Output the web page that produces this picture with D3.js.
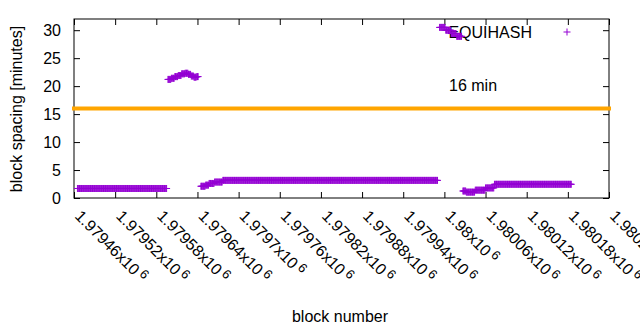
<!DOCTYPE html>
<html lang="en">
<head>
    <meta charset="UTF-8">
    <title>Block spacing</title>
    <script src="https://cdn.jsdelivr.net/npm/d3@7"></script>
    <style>
        body { margin: 0; background: #fff; }
        svg { display: block; }
        text { font-family: "Liberation Sans", Arial, sans-serif; font-size: 16px; fill: #000; }
        .axis path { display: none; }
        .axis line { stroke: #000; stroke-width: 1; }
    </style>
</head>
<body>
<svg id="chart" width="640" height="330"></svg>

<script>
    // runs of blocks that share (about) the same block spacing
    let run_start = [1979465, 1979597, 1979602, 1979607, 1979612, 1979617, 1979622, 1979627, 1979631, 1979635, 1979639,
        1979645, 1979652, 1979657, 1979665, 1979677,
        1979993, 1980002, 1980010, 1980018,
        1980027, 1980032, 1980045, 1980060, 1980073]
    let run_end = [1979595, 1979601, 1979606, 1979611, 1979616, 1979621, 1979626, 1979630, 1979634, 1979638, 1979641,
        1979651, 1979656, 1979664, 1979676, 1979990,
        1980001, 1980009, 1980017, 1980025,
        1980031, 1980044, 1980059, 1980072, 1980185]
    let run_minutes = [1.7, 21.2, 21.4, 21.7, 21.9, 22.2, 22.3, 22.1, 21.8, 21.6, 21.7,
        2.1, 2.3, 2.6, 2.85, 3.15,
        30.5, 30.0, 29.4, 28.9,
        1.25, 1.05, 1.4, 1.8, 2.45]

    let target_minutes = 16
    let x_ticks = [1979460, 1979520, 1979580, 1979640, 1979700, 1979760, 1979820,
        1979880, 1979940, 1980000, 1980060, 1980120, 1980180, 1980240]
    let x_tick_labels = ["1.97946", "1.97952", "1.97958", "1.97964", "1.9797", "1.97976", "1.97982",
        "1.97988", "1.97994", "1.98", "1.98006", "1.98012", "1.98018", "1.98024"]
    let y_ticks = [0, 5, 10, 15, 20, 25, 30]

    let purple = "#9400d3"
    let orange = "#ffa500"

    let plot_left = 74, plot_right = 609, plot_top = 19, plot_bottom = 198

    let x = d3.scaleLinear().domain([1979460, 1980240]).range([plot_left, plot_right])
    let y = d3.scaleLinear().domain([0, 32]).range([plot_bottom, plot_top])

    let svg = d3.select("#chart")

    // one point per block
    let points = []
    for (let i = 0; i < run_start.length; i++) {
        for (let b = run_start[i]; b <= run_end[i]; b++) {
            points.push({block: b, minutes: run_minutes[i]})
        }
    }

    // axes (ticks inward on all four sides)
    svg.append("g").attr("class", "axis")
        .attr("transform", "translate(0," + plot_bottom + ")")
        .call(d3.axisBottom(x).tickValues(x_ticks).tickSize(-6).tickFormat(""))
    svg.append("g").attr("class", "axis")
        .attr("transform", "translate(0," + plot_top + ")")
        .call(d3.axisTop(x).tickValues(x_ticks).tickSize(-6).tickFormat(""))
    let yAxis = svg.append("g").attr("class", "axis")
        .attr("transform", "translate(" + plot_left + ",0)")
        .call(d3.axisLeft(y).tickValues(y_ticks).tickSize(-6).tickPadding(13))
    yAxis.selectAll("text").style("font-size", "16px").style("font-family", "Liberation Sans, Arial, sans-serif")
    svg.append("g").attr("class", "axis")
        .attr("transform", "translate(" + plot_right + ",0)")
        .call(d3.axisRight(y).tickValues(y_ticks).tickSize(-6).tickFormat(""))

    svg.append("rect")
        .attr("x", plot_left).attr("y", plot_top)
        .attr("width", plot_right - plot_left).attr("height", plot_bottom - plot_top)
        .attr("fill", "none").attr("stroke", "#000").attr("stroke-width", 1)

    // rotated x tick labels
    let xl = svg.append("g").selectAll("text")
        .data(x_ticks)
        .join("text")
        .attr("transform", d => "translate(" + x(d) + ",217) rotate(45)")
        .attr("text-anchor", "start")
    xl.append("tspan").text((d, i) => x_tick_labels[i] + "x10")
    xl.append("tspan").attr("dx", 3).attr("dy", -5).style("font-size", "13px").text("6")

    // axis titles
    svg.append("text")
        .attr("x", 340).attr("y", 322)
        .attr("text-anchor", "middle")
        .text("block number")
    svg.append("text")
        .attr("transform", "translate(22,109) rotate(-90)")
        .attr("text-anchor", "middle")
        .text("block spacing [minutes]")

    // 16 minute target line + label
    svg.append("line")
        .attr("x1", x.range()[0]).attr("x2", x.range()[1])
        .attr("y1", y(target_minutes)).attr("y2", y(target_minutes))
        .attr("stroke", orange).attr("stroke-width", 4).attr("stroke-linecap", "square")
    svg.append("text")
        .attr("x", 449).attr("y", 91)
        .text(target_minutes + " min")

    // key
    svg.append("text")
        .attr("x", 532).attr("y", 37.5)
        .attr("text-anchor", "end")
        .text("EQUIHASH")
    let plus = "M-3.5,0H3.5M0,-3.5V3.5"
    svg.append("path")
        .attr("d", plus)
        .attr("transform", "translate(567,32)")
        .attr("fill", "none").attr("stroke", purple).attr("stroke-width", 1)

    // data points
    svg.append("g").selectAll("path")
        .data(points)
        .join("path")
        .attr("d", plus)
        .attr("transform", d => "translate(" + x(d.block) + "," + y(d.minutes) + ")")
        .attr("fill", "none")
        .attr("stroke", purple)
        .attr("stroke-width", 1)
</script>
</body>
</html>
